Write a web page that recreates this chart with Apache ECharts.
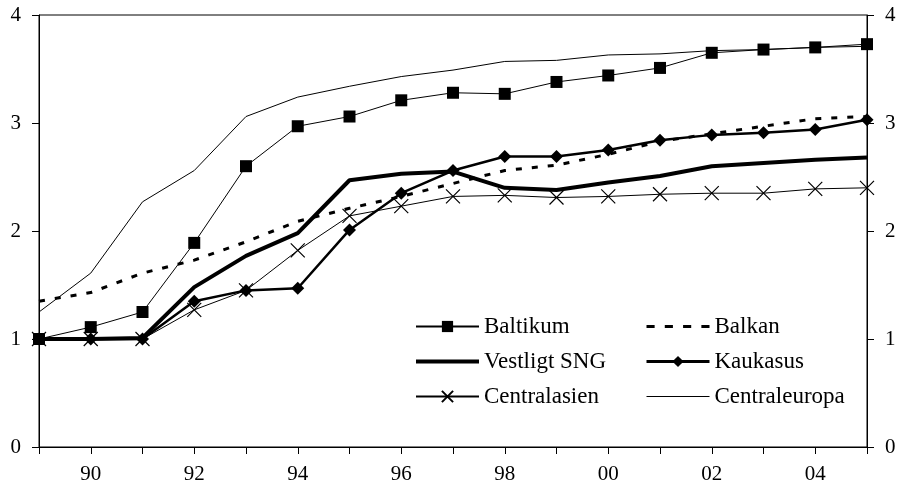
<!DOCTYPE html>
<html>
<head>
<meta charset="utf-8">
<script src="https://cdn.jsdelivr.net/npm/echarts@6/dist/echarts.min.js"></script>
<style>html,body{margin:0;padding:0;background:#fff;}#c{width:900px;height:486px;}</style>
</head>
<body>
<div id="c"></div>
<script>
const years = ['89','90','91','92','93','94','95','96','97','98','99','00','01','02','03','04','05'];
const baltikum      = [1.00,1.11,1.25,1.89,2.60,2.97,3.06,3.21,3.28,3.27,3.38,3.44,3.51,3.65,3.68,3.70,3.73];
const balkan        = [1.35,1.43,1.61,1.73,1.90,2.09,2.21,2.32,2.44,2.56,2.61,2.71,2.83,2.90,2.97,3.04,3.06];
const vestligtSNG   = [1.00,1.00,1.01,1.48,1.77,1.98,2.47,2.53,2.55,2.40,2.38,2.45,2.51,2.60,2.63,2.66,2.68];
const kaukasus      = [1.00,1.00,1.00,1.35,1.45,1.47,2.01,2.35,2.56,2.69,2.69,2.75,2.84,2.89,2.91,2.94,3.03];
const centralasien  = [1.00,1.00,1.00,1.27,1.45,1.82,2.14,2.23,2.32,2.33,2.31,2.32,2.34,2.35,2.35,2.39,2.40];
const centraleuropa = [1.25,1.61,2.27,2.56,3.06,3.24,3.34,3.43,3.49,3.57,3.58,3.63,3.64,3.67,3.68,3.70,3.71];
const yTicks = [0,1,2,3,4];

const FONT = 'Liberation Serif';
const chart = echarts.init(document.getElementById('c'));
const yAxisBase = {
  type: 'value', min: 0, max: 4, interval: 1,
  axisLine: {show: true, lineStyle: {color: '#000', width: 1}},
  axisTick: {show: true, length: 7, lineStyle: {color: '#000'}},
  splitLine: {show: false},
  axisLabel: {color: '#000', fontFamily: FONT, fontSize: 21, margin: 18,
    formatter: v => yTicks.includes(v) ? String(v) : ''}
};
const legendText = {color: '#000', fontFamily: FONT, fontSize: 23};
const thinIcon = 'path://M0,0h62v1.2h-62z';
const thickIcon = 'path://M0,0h62v4h-62z';
const dashIcon = 'path://M0,0h8v3h-8zM18,0h8v3h-8zM36,0h8v3h-8zM54,0h8v3h-8z';
chart.setOption({
  animation: false,
  backgroundColor: '#fff',
  grid: {left: 39, right: 33, top: 15, bottom: 39, show: true, borderColor: '#000', borderWidth: 1},
  xAxis: {
    type: 'category', data: years, boundaryGap: false,
    axisLine: {lineStyle: {color: '#000', width: 1}},
    axisTick: {show: true, interval: 0, length: 7, lineStyle: {color: '#000'}},
    axisLabel: {color: '#000', fontFamily: FONT, fontSize: 21, margin: 17,
      interval: (i) => i % 2 === 1},
    splitLine: {show: false}
  },
  yAxis: [
    Object.assign({}, yAxisBase, {position: 'left'}),
    Object.assign({}, yAxisBase, {position: 'right'})
  ],
  legend: [
    {orient: 'vertical', left: 415, top: 315, padding: 0, itemGap: 12,
     itemWidth: 63, itemHeight: 14, textStyle: legendText,
     data: ['Baltikum', {name: 'Vestligt SNG', icon: thickIcon}, 'Centralasien']},
    {orient: 'vertical', left: 645, top: 315, padding: 0, itemGap: 12,
     itemWidth: 63, itemHeight: 14, textStyle: legendText,
     data: [{name: 'Balkan', icon: dashIcon},
            {name: 'Kaukasus', lineStyle: {width: 3}},
            {name: 'Centraleuropa', icon: thinIcon}]}
  ],
  series: [
    {name: 'Centraleuropa', type: 'line', data: centraleuropa, symbol: 'none',
     lineStyle: {color: '#000', width: 1}, itemStyle: {color: '#000'}},
    {name: 'Balkan', type: 'line', data: balkan, symbol: 'none',
     lineStyle: {color: '#000', width: 3, type: [6, 10]}, itemStyle: {color: '#000'}},
    {name: 'Centralasien', type: 'line', data: centralasien,
     symbol: 'path://M0,0L10,10M10,0L0,10', symbolSize: 14,
     lineStyle: {color: '#000', width: 1},
     itemStyle: {color: '#000', borderColor: '#000', borderWidth: 1.2}},
    {name: 'Vestligt SNG', type: 'line', data: vestligtSNG, symbol: 'none',
     lineStyle: {color: '#000', width: 4}, itemStyle: {color: '#000'}},
    {name: 'Kaukasus', type: 'line', data: kaukasus, symbol: 'diamond', symbolSize: 13,
     lineStyle: {color: '#000', width: 2.5}, itemStyle: {color: '#000'}},
    {name: 'Baltikum', type: 'line', data: baltikum, symbol: 'rect', symbolSize: 12,
     lineStyle: {color: '#000', width: 1}, itemStyle: {color: '#000'}}
  ]
});
</script>
</body>
</html>
